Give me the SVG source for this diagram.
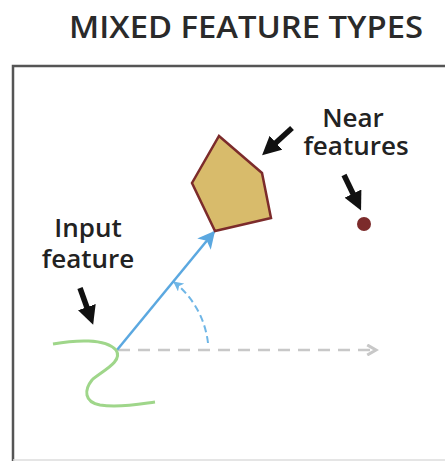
<svg xmlns="http://www.w3.org/2000/svg" width="445" height="461" viewBox="0 0 445 461">
  <style>
    .label { font-family: "Open Sans", "Liberation Sans", sans-serif; font-weight: 600; font-size: 26px; fill: #222; }
    .title { font-family: "Open Sans", "Liberation Sans", sans-serif; font-weight: 600; font-size: 30px; fill: #2a2a2a; }
    .pointer { stroke: #111; stroke-width: 5.5; fill: none; }
  </style>
  <defs>
    <marker id="blackHead" viewBox="0 0 10 10" refX="5" refY="5" markerWidth="3.4" markerHeight="3.4" orient="auto" markerUnits="strokeWidth">
      <path d="M0,0 L10,5 L0,10 z" fill="#111"/>
    </marker>
    <marker id="blueHead" viewBox="0 0 10 10" refX="9" refY="5" markerWidth="7" markerHeight="7" orient="auto" markerUnits="strokeWidth">
      <path d="M0,0 L10,5 L0,10 L2.5,5 z" fill="#5ba8e0"/>
    </marker>
    <marker id="arcHead" viewBox="0 0 10 10" refX="9" refY="5" markerWidth="5" markerHeight="5" orient="auto" markerUnits="strokeWidth">
      <path d="M0,0 L10,5 L0,10 L2.5,5 z" fill="#6fb6e6"/>
    </marker>
    <marker id="greyHead" viewBox="0 0 10 10" refX="8" refY="5" markerWidth="5" markerHeight="5" orient="auto" markerUnits="strokeWidth">
      <path d="M1,1 L8,5 L1,9" fill="none" stroke="#c8c8c8" stroke-width="2.5"/>
    </marker>
  </defs>

  <text class="title" x="246" y="38" text-anchor="middle" textLength="354" lengthAdjust="spacingAndGlyphs">MIXED FEATURE TYPES</text>

  <!-- frame -->
  <path d="M13,461 L13,66 L445,66" fill="none" stroke="#555" stroke-width="2.5"/>
  <line x1="13" y1="460" x2="445" y2="460" stroke="#ddd" stroke-width="1.5"/>

  <g id="connectors">
    <line x1="118" y1="350" x2="376" y2="350" stroke="#c8c8c8" stroke-width="2.5" stroke-dasharray="12,8" marker-end="url(#greyHead)"/>
    <path d="M208,343 A91,91 0 0 0 174,282" fill="none" stroke="#6fb6e6" stroke-width="2" stroke-dasharray="7,4" marker-end="url(#arcHead)"/>
    <line x1="117" y1="350" x2="214" y2="232" stroke="#5ba8e0" stroke-width="2.5" marker-end="url(#blueHead)"/>
    <line class="pointer" x1="292" y1="128" x2="269" y2="149" marker-end="url(#blackHead)"/>
    <line class="pointer" x1="344" y1="175" x2="357" y2="202" marker-end="url(#blackHead)"/>
    <line class="pointer" x1="80" y1="288" x2="90" y2="316" marker-end="url(#blackHead)"/>
  </g>

  <g id="input-feature">
    <path d="M53,344 C75,340 105,338 116,350 C124,362 100,372 92,380 C84,390 84,402 100,405 C120,408 140,404 155,402" fill="none" stroke="#9fd68a" stroke-width="3"/>
    <text class="label" x="88" y="237" text-anchor="middle">Input</text>
    <text class="label" x="88" y="268" text-anchor="middle">feature</text>
  </g>

  <g id="near-polygon">
    <polygon points="219,136 262,173 271,218 215,231 192,183" fill="#d8bb6b" stroke="#7c2b2b" stroke-width="2.5"/>
  </g>

  <g id="near-point">
    <circle cx="364" cy="224" r="7" fill="#7c2b2b"/>
  </g>

  <g id="near-label">
    <text class="label" x="353" y="127" text-anchor="middle">Near</text>
    <text class="label" x="356" y="155" text-anchor="middle">features</text>
  </g>
</svg>
